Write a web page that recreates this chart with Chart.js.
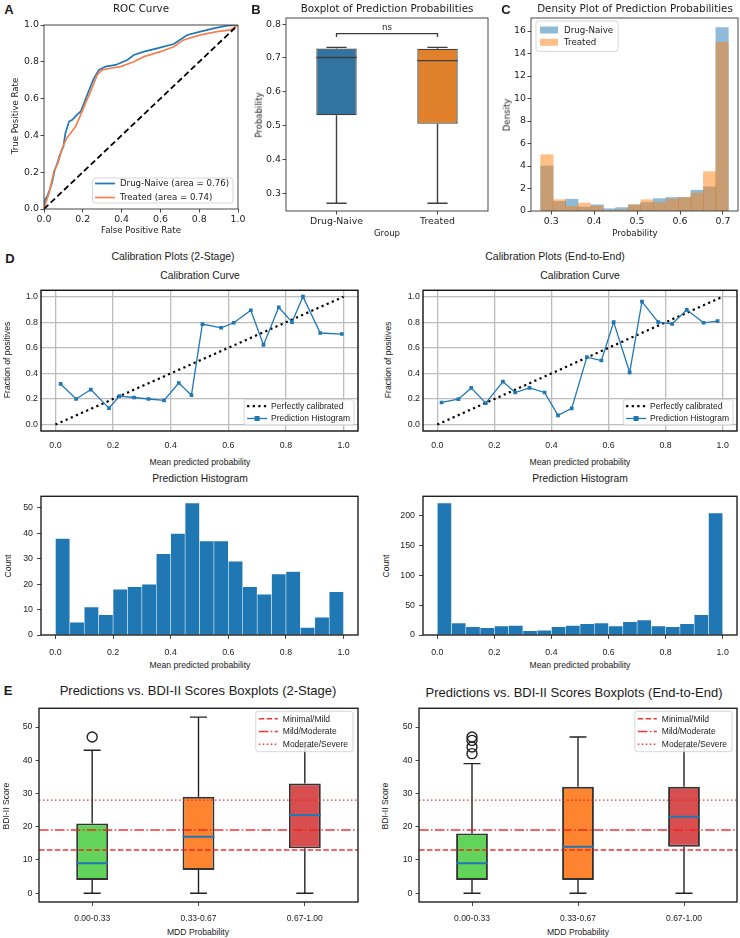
<!DOCTYPE html>
<html>
<head>
<meta charset="utf-8">
<script src="https://cdn.jsdelivr.net/npm/chart.js@4.4.1/dist/chart.umd.min.js"></script>
<style>
  body { margin: 0; background: #fff; }
  #fig { position: relative; width: 740px; height: 938px; overflow: hidden; background: #fff; }
  #fig canvas { position: absolute; }
  .t { position: absolute; white-space: nowrap; color: #1a1a1a; line-height: 1; transform: translate(-50%, -50%); }
  .t.v { transform: translate(-50%, -50%) rotate(-90deg); }
</style>
</head>
<body>
<div id="fig"></div>
<script>
// ---- A: ROC curve
const rocFprNaive = [0, 0.005, 0.017, 0.03, 0.043, 0.055, 0.069, 0.082, 0.10, 0.11, 0.129, 0.146, 0.168, 0.189, 0.206, 0.23, 0.257, 0.283, 0.317, 0.369, 0.429, 0.463, 0.515, 0.583, 0.669, 0.738, 0.806, 0.875, 0.943, 1];
const rocTprNaive = [0, 0.05, 0.07, 0.105, 0.15, 0.21, 0.25, 0.295, 0.34, 0.41, 0.475, 0.485, 0.51, 0.53, 0.575, 0.64, 0.71, 0.756, 0.774, 0.783, 0.81, 0.837, 0.855, 0.873, 0.897, 0.946, 0.964, 0.982, 0.996, 1];
const rocFprTreated = [0, 0.009, 0.026, 0.051, 0.072, 0.094, 0.117, 0.137, 0.163, 0.189, 0.214, 0.24, 0.274, 0.30, 0.343, 0.395, 0.463, 0.515, 0.60, 0.669, 0.72, 0.806, 0.892, 0.96, 1];
const rocTprTreated = [0, 0.033, 0.087, 0.204, 0.25, 0.33, 0.385, 0.412, 0.448, 0.512, 0.575, 0.638, 0.729, 0.756, 0.765, 0.774, 0.80, 0.828, 0.855, 0.882, 0.919, 0.946, 0.964, 0.973, 1];
const rocTicks = [0, 0.2, 0.4, 0.6, 0.8, 1.0];

// ---- B: boxplot of prediction probabilities
const groups = ['Drug-Naive', 'Treated'];
const probQ1 = [0.53, 0.505];
const probMed = [0.701, 0.692];
const probQ3 = [0.728, 0.727];
const probLo = [0.27, 0.27];
const probHi = [0.731, 0.731];
const probTicks = [0.3, 0.4, 0.5, 0.6, 0.7, 0.8];

// ---- C: density histogram
const densCenters = [0.290, 0.319, 0.348, 0.377, 0.407, 0.436, 0.465, 0.494, 0.523, 0.552, 0.582, 0.611, 0.640, 0.669, 0.698];
const densNaive = [4.0, 0.85, 1.05, 0.35, 0.55, 0.2, 0.3, 0.55, 0.75, 1.1, 1.2, 1.2, 1.85, 2.15, 16.3];
const densTreated = [5.0, 1.0, 0.4, 0.7, 0.45, 0.05, 0.12, 0.55, 1.0, 0.75, 1.05, 1.2, 1.6, 3.5, 15.0];
const densXTicks = [0.3, 0.4, 0.5, 0.6, 0.7];
const densYTicks = [0, 2, 4, 6, 8, 10, 12, 14, 16];

// ---- D: calibration
const cal2StageX = [0.018, 0.072, 0.123, 0.186, 0.222, 0.273, 0.323, 0.377, 0.428, 0.472, 0.51, 0.575, 0.619, 0.678, 0.722, 0.775, 0.821, 0.859, 0.919, 0.994];
const cal2StageY = [0.318, 0.20, 0.274, 0.129, 0.222, 0.212, 0.20, 0.19, 0.325, 0.23, 0.786, 0.757, 0.796, 0.894, 0.623, 0.917, 0.801, 1.0, 0.716, 0.708];
const calE2EX = [0.015, 0.074, 0.119, 0.170, 0.230, 0.273, 0.323, 0.376, 0.423, 0.471, 0.524, 0.575, 0.618, 0.674, 0.717, 0.774, 0.823, 0.874, 0.933, 0.982];
const calE2EY = [0.173, 0.199, 0.287, 0.168, 0.336, 0.251, 0.287, 0.251, 0.072, 0.127, 0.527, 0.501, 0.801, 0.408, 0.961, 0.801, 0.788, 0.897, 0.796, 0.809];
const calTicks = [0, 0.2, 0.4, 0.6, 0.8, 1.0];
const histCenters = [0.025, 0.075, 0.125, 0.175, 0.225, 0.275, 0.325, 0.375, 0.425, 0.475, 0.525, 0.575, 0.625, 0.675, 0.725, 0.775, 0.825, 0.875, 0.925, 0.975];
const hist2Stage = [38, 5, 11, 8, 18, 19, 20, 32, 40, 52, 37, 37, 29, 19, 16, 24, 25, 3, 7, 17];
const histE2E = [221, 20, 14, 12, 15, 16, 7, 8, 14, 16, 19, 20, 15, 22, 25, 15, 14, 19, 34, 204];
const hist2StageTicks = [0, 10, 20, 30, 40, 50];
const histE2ETicks = [0, 50, 100, 150, 200];

// ---- E: BDI-II boxplots
const mddBins = ['0.00-0.33', '0.33-0.67', '0.67-1.00'];
const bdi2Q1 = [4, 7, 13.5], bdi2Med = [9, 17, 23.5], bdi2Q3 = [21, 29, 33], bdi2Lo = [0, 0, 0], bdi2Hi = [43, 53, 44];
const bdi2Out = [[47], [], []];
const bdiEQ1 = [4, 4, 14], bdiEMed = [9, 14, 23], bdiEQ3 = [18, 32, 32], bdiELo = [0, 0, 0], bdiEHi = [39, 47, 44];
const bdiEOut = [[42, 44, 46, 47], [], []];
const thrValues = [13, 19, 28];
const thrNames = ['Minimal/Mild', 'Mild/Moderate', 'Moderate/Severe'];
const thrDash = [[5.5, 2.4], [9.6, 2.4, 1.5, 2.4], [1.5, 2.5]];
const bdiTicks = [0, 10, 20, 30, 40, 50];

const DJ = 'DejaVu Sans', LS = 'Liberation Sans';
const fig = document.getElementById('fig');
const zip = (xs, ys) => xs.map((x, i) => ({ x: x, y: ys[i] }));

function mk(area, pad, cfg) {
  const cv = document.createElement('canvas');
  fig.appendChild(cv);
  const w = area.r - area.l + pad.l + pad.r, h = area.b - area.t + pad.t + pad.b;
  cv.width = w; cv.height = h;
  cv.style.left = (area.l - pad.l) + 'px'; cv.style.top = (area.t - pad.t) + 'px';
  cv.style.width = w + 'px'; cv.style.height = h + 'px';
  const o = cfg.options;
  o.responsive = false; o.animation = false; o.devicePixelRatio = 1; o.maintainAspectRatio = false;
  o.layout = { padding: { top: pad.t, right: pad.r, left: 0, bottom: 0 }, autoPadding: false };
  o.scales.x.afterFit = s => { s.height = pad.b; };
  o.scales.y.afterFit = s => { s.width = pad.l; };
  o.plugins = { legend: { display: false }, tooltip: { enabled: false } };
  return new Chart(cv, cfg);
}

function axis(min, max, ticks, fmt, o) {
  return {
    type: 'linear', min: min, max: max, offset: false,
    afterBuildTicks: s => { s.ticks = ticks.map(v => ({ value: v })); },
    grid: {
      display: true, offset: false, drawOnChartArea: !!o.grid, drawTicks: o.tick > 0,
      tickLength: o.tick || 0, color: o.grid ? o.grid : '#333', lineWidth: o.grid ? 1.3 : 0.9,
      tickColor: '#333', tickWidth: 0.9
    },
    border: { display: false },
    ticks: { padding: o.pad, font: { family: o.font, size: o.size }, color: '#222', maxRotation: 0, autoSkip: false, callback: fmt }
  };
}

function frame(color, width) {
  return {
    id: 'frame',
    afterDatasetsDraw(c) {
      const a = c.chartArea, x = c.ctx;
      x.save(); x.strokeStyle = color; x.lineWidth = width; x.setLineDash([]);
      x.strokeRect(a.left, a.top, a.right - a.left, a.bottom - a.top);
      x.restore();
    }
  };
}

function legend(spec) {
  return {
    id: 'mplLegend',
    afterDraw(c) {
      const ctx = c.ctx, a = c.chartArea;
      ctx.save();
      ctx.font = spec.font;
      const tw = Math.max(...spec.items.map(it => ctx.measureText(it.label).width));
      const w = spec.padL + spec.handle + spec.gap + tw + spec.padR;
      const h = spec.padT * 2 + (spec.items.length - 1) * spec.row;
      const x = spec.corner[1] === 'r' ? a.right - spec.inset - w : a.left + spec.inset;
      const y = spec.corner[0] === 'l' ? a.bottom - spec.insetY - h : a.top + spec.insetY;
      ctx.beginPath();
      ctx.roundRect(x, y, w, h, 2.5);
      ctx.fillStyle = 'rgba(255,255,255,0.8)'; ctx.fill();
      ctx.strokeStyle = 'rgba(204,204,204,0.8)'; ctx.lineWidth = 1; ctx.stroke();
      spec.items.forEach((it, i) => {
        const cy = y + spec.padT + i * spec.row, hx = x + spec.padL;
        if (it.patch) {
          ctx.fillStyle = it.color; ctx.fillRect(hx, cy - 3.5, spec.handle, 7);
        } else {
          ctx.beginPath(); ctx.setLineDash(it.dash || []); ctx.lineCap = 'butt';
          ctx.strokeStyle = it.color; ctx.lineWidth = it.lw;
          ctx.moveTo(hx, cy); ctx.lineTo(hx + spec.handle, cy); ctx.stroke();
          ctx.setLineDash([]);
          if (it.marker) { ctx.fillStyle = it.color; ctx.fillRect(hx + spec.handle / 2 - 2.5, cy - 2.5, 5, 5); }
        }
        ctx.fillStyle = '#1a1a1a'; ctx.textBaseline = 'middle'; ctx.textAlign = 'left';
        ctx.fillText(it.label, hx + spec.handle + spec.gap, cy + 0.5);
      });
      ctx.restore();
    }
  };
}

// box parts as line datasets (whiskers, caps, medians)
function boxLines(q1, med, q3, lo, hi, pos, half, capHalf, color, lw, medColor, medLw) {
  const wh = [], cap = [], md = [];
  pos.forEach((p, i) => {
    wh.push({ x: p, y: lo[i] }, { x: p, y: q1[i] }, { x: p, y: null }, { x: p, y: q3[i] }, { x: p, y: hi[i] }, { x: p, y: null });
    cap.push({ x: p - capHalf, y: lo[i] }, { x: p + capHalf, y: lo[i] }, { x: p, y: null },
             { x: p - capHalf, y: hi[i] }, { x: p + capHalf, y: hi[i] }, { x: p, y: null });
    md.push({ x: p - half, y: med[i] }, { x: p + half, y: med[i] }, { x: p, y: null });
  });
  const base = { type: 'line', pointRadius: 0, borderColor: color, borderWidth: lw, order: 1 };
  return [
    Object.assign({}, base, { data: wh }),
    Object.assign({}, base, { data: cap }),
    Object.assign({}, base, { data: md, borderColor: medColor, borderWidth: medLw, order: 0 })
  ];
}

const f1 = v => v.toFixed(1);
const f0 = v => String(v);
const oA = { tick: 3.5, pad: 1.5, font: DJ, size: 9.4 };

// ---------- A
mk({ l: 44, t: 25, r: 238, b: 209 }, { l: 44, t: 8, r: 10, b: 24 }, {
  type: 'scatter',
  data: { datasets: [
    { data: [{ x: 0, y: 0 }, { x: 1, y: 1 }], showLine: true, borderColor: '#000', borderWidth: 1.8, borderDash: [6, 3.2], pointRadius: 0, order: 1 },
    { data: zip(rocFprTreated, rocTprTreated), showLine: true, borderColor: '#f5804f', borderWidth: 1.7, pointRadius: 0, order: 2 },
    { data: zip(rocFprNaive, rocTprNaive), showLine: true, borderColor: '#1f77b4', borderWidth: 1.7, pointRadius: 0, order: 3 }
  ] },
  options: { scales: { x: axis(0, 1, rocTicks, f1, oA), y: axis(0, 1, rocTicks, f1, oA) } },
  plugins: [frame('#333', 0.9), legend({ font: '8.6px "DejaVu Sans"', corner: 'lr', inset: 5, insetY: 6, padL: 2.5, handle: 20, gap: 5, padR: 4, padT: 5.5, row: 14,
    items: [{ label: 'Drug-Naive (area = 0.76)', color: '#1f77b4', lw: 1.7 }, { label: 'Treated (area = 0.74)', color: '#f5804f', lw: 1.7 }] })]
});

// ---------- B
const bPos = groups.map((g, i) => i);
mk({ l: 286, t: 18, r: 488, b: 211 }, { l: 30, t: 8, r: 4, b: 24 }, {
  type: 'bar',
  data: { datasets: [
    { type: 'line', data: [{ x: 0, y: 0.762 }, { x: 0, y: 0.772 }, { x: 1, y: 0.772 }, { x: 1, y: 0.762 }], borderColor: '#3a3a3a', borderWidth: 1.3, pointRadius: 0, order: 0 },
    ...boxLines(probQ1, probMed, probQ3, probLo, probHi, bPos, 0.2, 0.1, '#3f3f3f', 1.4, '#3f3f3f', 1.4),
    { data: bPos.map((p, i) => ({ x: p, y: [probQ1[i], probQ3[i]] })), backgroundColor: ['#3274a1', '#e1812c'], borderColor: '#3f3f3f', borderWidth: 1.3, borderSkipped: false, barPercentage: 0.4, categoryPercentage: 1, order: 3 }
  ] },
  options: { scales: { x: axis(-0.5, 1.5, bPos, v => groups[v], oA), y: axis(0.247, 0.818, probTicks, f1, oA) } },
  plugins: [frame('#333', 0.9)]
});

// ---------- C
mk({ l: 531, t: 18, r: 738, b: 211 }, { l: 24, t: 8, r: 2, b: 24 }, {
  type: 'bar',
  data: { datasets: [
    { data: zip(densCenters, densTreated), backgroundColor: 'rgba(255,127,14,0.5)', borderWidth: 0, barPercentage: 1, categoryPercentage: 1, grouped: false },
    { data: zip(densCenters, densNaive), backgroundColor: 'rgba(31,119,180,0.5)', borderWidth: 0, barPercentage: 1, categoryPercentage: 1, grouped: false }
  ] },
  options: { scales: { x: axis(0.253, 0.735, densXTicks, f1, oA), y: axis(0, 17.16, densYTicks, f0, oA) } },
  plugins: [frame('#333', 0.9), legend({ font: '8.7px "DejaVu Sans"', corner: 'ul', inset: 5, insetY: 3, padL: 4, handle: 18, gap: 6, padR: 5, padT: 9, row: 12.3,
    items: [{ label: 'Drug-Naive', color: 'rgba(31,119,180,0.5)', patch: true }, { label: 'Treated', color: 'rgba(255,127,14,0.5)', patch: true }] })]
});

// ---------- D calibration curves
const oCalX = { tick: 0, pad: 9, font: LS, size: 8.8, grid: '#bdbdbd' };
const oCalY = { tick: 0, pad: 3, font: LS, size: 8.8, grid: '#bdbdbd' };
const calLegend = () => legend({ font: '8.5px "Liberation Sans"', corner: 'lr', inset: 4, insetY: 6, padL: 3, handle: 20, gap: 4, padR: 4, padT: 6.5, row: 12.3,
  items: [{ label: 'Perfectly calibrated', color: '#000', lw: 2.2, dash: [2.2, 3.4] }, { label: 'Prediction Histogram', color: '#1f77b4', lw: 1.3, marker: true }] });
function calChart(area, xs, ys) {
  mk(area, { l: 30, t: 6, r: 4, b: 24 }, {
    type: 'scatter',
    data: { datasets: [
      { data: [{ x: 0, y: 0 }, { x: 1, y: 1 }], showLine: true, borderColor: '#000', borderWidth: 2.2, borderDash: [2.2, 3.4], pointRadius: 0, order: 2 },
      { data: zip(xs, ys), showLine: true, borderColor: '#1f77b4', borderWidth: 1.3, pointStyle: 'rect', pointRadius: 2.6, pointBackgroundColor: '#1f77b4', pointBorderWidth: 0, order: 1 }
    ] },
    options: { scales: { x: axis(-0.05, 1.05, calTicks, f1, oCalX), y: axis(-0.05, 1.05, calTicks, f1, oCalY) } },
    plugins: [frame('#111', 1.4), calLegend()]
  });
}
calChart({ l: 41, t: 288, r: 358, b: 431 }, cal2StageX, cal2StageY);
calChart({ l: 423, t: 288, r: 737, b: 431 }, calE2EX, calE2EY);

// ---------- D prediction histograms
const oHX = { tick: 4, pad: 8, font: LS, size: 8.8 };
const oHY = { tick: 4, pad: 4, font: LS, size: 8.8 };
function histChart(area, counts, ymax, yt) {
  mk(area, { l: 30, t: 6, r: 4, b: 24 }, {
    type: 'bar',
    data: { datasets: [
      { data: zip(histCenters, counts), backgroundColor: '#1f77b4', borderColor: 'rgba(255,255,255,0.2)', borderWidth: 0.6, barPercentage: 1, categoryPercentage: 1 }
    ] },
    options: { scales: { x: axis(-0.05, 1.05, calTicks, f1, oHX), y: axis(0, ymax, yt, f0, oHY) } },
    plugins: [frame('#111', 1.3)]
  });
}
histChart({ l: 41, t: 493, r: 358, b: 635 }, hist2Stage, 54.6, hist2StageTicks);
histChart({ l: 423, t: 493, r: 737, b: 635 }, histE2E, 232, histE2ETicks);

// ---------- E BDI-II boxplots
const oEX = { tick: 4, pad: 8, font: LS, size: 8.5 };
const oEY = { tick: 3.5, pad: 3, font: LS, size: 8.8 };
const ePos = mddBins.map((b, i) => i + 1);
const boxColors = ['#62d35b', '#ff8430', '#d94f50'];
function bdiChart(area, q1, med, q3, lo, hi, outs) {
  const outData = [];
  outs.forEach((list, i) => list.forEach(v => outData.push({ x: ePos[i], y: v })));
  const thr = thrValues.map((v, i) => ({ type: 'line', data: [{ x: 0.5, y: v }, { x: 3.5, y: v }], borderColor: 'rgba(240,30,30,0.9)', borderWidth: 1.4, borderDash: thrDash[i], pointRadius: 0, order: 0 }));
  mk(area, { l: 28, t: 6, r: 4, b: 24 }, {
    type: 'bar',
    data: { datasets: [
      ...thr,
      { type: 'line', data: outData, showLine: false, pointRadius: 5, pointBackgroundColor: 'rgba(0,0,0,0)', pointBorderColor: '#222', pointBorderWidth: 1.4, order: 1 },
      ...boxLines(q1, med, q3, lo, hi, ePos, 0.15, 0.08, '#222', 1.4, '#1f77b4', 2),
      { data: ePos.map((p, i) => ({ x: p, y: [q1[i], q3[i]] })), backgroundColor: boxColors, borderColor: '#333', borderWidth: 1.9, borderSkipped: false, barPercentage: 0.3, categoryPercentage: 1, order: 3 }
    ] },
    options: { scales: { x: axis(0.5, 3.5, ePos, v => mddBins[v - 1], oEX), y: axis(-2.65, 55.65, bdiTicks, f0, oEY) } },
    plugins: [frame('#222', 1.4), legend({ font: '8.5px "Liberation Sans"', corner: 'ur', inset: 5, insetY: 3, padL: 3, handle: 19, gap: 5, padR: 5, padT: 7.5, row: 12.7,
      items: thrNames.map((n, i) => ({ label: n, color: 'rgba(240,30,30,0.9)', lw: 1.4, dash: thrDash[i] })) })]
  });
}
bdiChart({ l: 39, t: 706, r: 358, b: 902 }, bdi2Q1, bdi2Med, bdi2Q3, bdi2Lo, bdi2Hi, bdi2Out);
bdiChart({ l: 419, t: 706, r: 737, b: 902 }, bdiEQ1, bdiEMed, bdiEQ3, bdiELo, bdiEHi, bdiEOut);

// ---------- text
const texts = [
  ['A', 9, 9, 13, LS, 'bold'], ['B', 256, 9, 13, LS, 'bold'], ['C', 506, 9, 13, LS, 'bold'],
  ['D', 10, 258, 13, LS, 'bold'], ['E', 8, 690, 13, LS, 'bold'],
  ['ROC Curve', 141, 8, 10.3, DJ], ['Boxplot of Prediction Probabilities', 387, 8, 10.3, DJ],
  ['Density Plot of Prediction Probabilities', 635, 8, 10.3, DJ],
  ['False Positive Rate', 141, 230, 8.6, DJ], ['True Positive Rate', 15, 116, 8.6, DJ, 'normal', true],
  ['Group', 387, 233, 8.6, DJ], ['Probability', 259, 115, 8.6, DJ, 'normal', true],
  ['Probability', 635, 233, 8.6, DJ], ['Density', 507, 115, 8.6, DJ, 'normal', true],
  ['ns', 387, 27, 8.6, DJ],
  ['Calibration Plots (2-Stage)', 173, 256, 10.5, LS], ['Calibration Plots (End-to-End)', 555, 256, 10.5, LS],
  ['Calibration Curve', 200, 276, 10.3, LS], ['Calibration Curve', 580, 276, 10.3, LS],
  ['Mean predicted probability', 200, 462, 8.6, LS], ['Mean predicted probability', 580, 462, 8.6, LS],
  ['Fraction of positives', 7, 360, 8.6, LS, 'normal', true], ['Fraction of positives', 388, 360, 8.6, LS, 'normal', true],
  ['Prediction Histogram', 200, 479, 10.3, LS], ['Prediction Histogram', 580, 479, 10.3, LS],
  ['Mean predicted probability', 200, 665, 8.6, LS], ['Mean predicted probability', 580, 665, 8.6, LS],
  ['Count', 8, 566, 8.6, LS, 'normal', true], ['Count', 386, 566, 8.6, LS, 'normal', true],
  ['Predictions vs. BDI-II Scores Boxplots (2-Stage)', 198, 690, 13, LS],
  ['Predictions vs. BDI-II Scores Boxplots (End-to-End)', 574, 692, 13, LS],
  ['MDD Probability', 198, 932, 8.6, LS], ['MDD Probability', 578, 932, 8.6, LS],
  ['BDI-II Score', 6, 806, 8.6, LS, 'normal', true], ['BDI-II Score', 385, 806, 8.6, LS, 'normal', true]
];
texts.forEach(([s, x, y, size, fam, weight, vert]) => {
  const d = document.createElement('div');
  d.className = vert ? 't v' : 't';
  d.textContent = s;
  d.style.left = x + 'px'; d.style.top = y + 'px';
  d.style.fontSize = size + 'px'; d.style.fontFamily = '"' + fam + '"';
  d.style.fontWeight = weight || 'normal';
  d.style.zIndex = 2;
  fig.appendChild(d);
});
</script>
</body>
</html>
